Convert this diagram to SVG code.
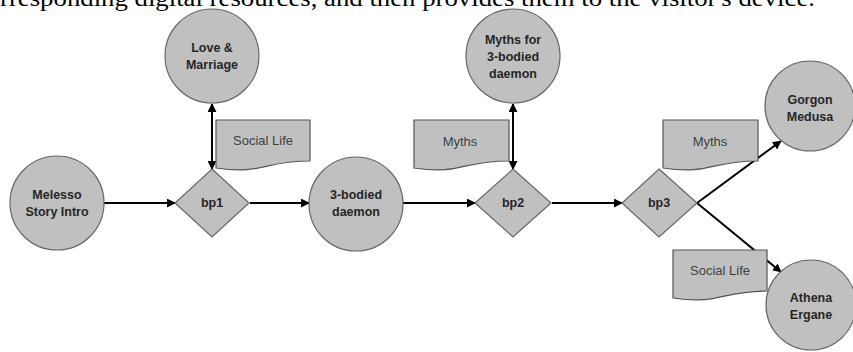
<svg xmlns="http://www.w3.org/2000/svg" width="853" height="352" viewBox="0 0 853 352">
<defs>
<marker id="ah" viewBox="0 0 10 10" refX="9" refY="5" markerWidth="9" markerHeight="9" markerUnits="userSpaceOnUse" orient="auto-start-reverse">
<path d="M0,0 L10,5 L0,10 Z" fill="#000"/>
</marker>
<style>
.node{fill:#c0c0c0;stroke:#666;stroke-width:1.2}
.doc{fill:#c0c0c0;stroke:#555;stroke-width:1.2}
.lbl{font-family:"Liberation Sans",Arial,sans-serif;font-weight:bold;font-size:12.5px;fill:#262626;text-anchor:middle}
.dl{font-family:"Liberation Sans",Arial,sans-serif;font-size:13px;fill:#404040;text-anchor:middle}
.cn{stroke:#000;stroke-width:2;fill:none}
</style>
</defs>
<rect width="853" height="352" fill="#fff"/>
<text x="0" y="6" font-family="Liberation Serif,Times New Roman,serif" font-size="24" fill="#000" textLength="815" lengthAdjust="spacingAndGlyphs">rresponding digital resources, and then provides them to the visitor's device.</text>

<g id="connectors">
<line class="cn" x1="104" y1="203" x2="175" y2="203" marker-end="url(#ah)"/>
<line class="cn" x1="250" y1="203" x2="309" y2="203" marker-end="url(#ah)"/>
<line class="cn" x1="403" y1="203" x2="475" y2="203" marker-end="url(#ah)"/>
<line class="cn" x1="552" y1="203" x2="622" y2="203" marker-end="url(#ah)"/>
<line class="cn" x1="212" y1="104" x2="212" y2="169" marker-start="url(#ah)" marker-end="url(#ah)"/>
<line class="cn" x1="513" y1="104" x2="513" y2="169" marker-start="url(#ah)" marker-end="url(#ah)"/>
<line class="cn" x1="697" y1="203" x2="781" y2="141" marker-end="url(#ah)"/>
<line class="cn" x1="697" y1="203" x2="781" y2="272" marker-end="url(#ah)"/>
</g>

<g id="melesso"><circle class="node" cx="57" cy="203" r="47"/><text class="lbl" x="57" y="199">Melesso</text><text class="lbl" x="57" y="216">Story Intro</text></g>
<g id="love"><circle class="node" cx="212" cy="56" r="47"/><text class="lbl" x="212" y="52">Love &amp;</text><text class="lbl" x="212" y="69">Marriage</text></g>
<g id="bp1"><polygon class="node" points="212,169 249,203 212,237 175,203"/><text class="lbl" x="212" y="207">bp1</text></g>
<g id="doc1"><path class="doc" d="M216,120 H310 V161 C263,161 263,175 216,168 Z"/><text class="dl" x="263" y="145">Social Life</text></g>
<g id="daemon"><circle class="node" cx="356" cy="204" r="47"/><text class="lbl" x="356" y="199">3-bodied</text><text class="lbl" x="356" y="216">daemon</text></g>
<g id="mythsfor"><circle class="node" cx="513" cy="56" r="47"/><text class="lbl" x="513" y="44">Myths for</text><text class="lbl" x="513" y="61">3-bodied</text><text class="lbl" x="513" y="78">daemon</text></g>
<g id="bp2"><polygon class="node" points="513,169 551,203 513,237 475,203"/><text class="lbl" x="513" y="207">bp2</text></g>
<g id="doc2"><path class="doc" d="M414,120 H509 V161 C461,161 461,175 414,168 Z"/><text class="dl" x="460" y="146">Myths</text></g>
<g id="bp3"><polygon class="node" points="659,169 697,203 659,237 622,203"/><text class="lbl" x="659" y="207">bp3</text></g>
<g id="doc3"><path class="doc" d="M663,120 H758 V161 C710,161 710,175 663,168 Z"/><text class="dl" x="710" y="146">Myths</text></g>
<g id="gorgon"><circle class="node" cx="810" cy="106" r="45"/><text class="lbl" x="810" y="104">Gorgon</text><text class="lbl" x="810" y="121">Medusa</text></g>
<g id="doc4"><path class="doc" d="M673,250 H767 V291 C720,291 720,305 673,298 Z"/><text class="dl" x="720" y="275">Social Life</text></g>
<g id="athena"><circle class="node" cx="811" cy="305" r="45"/><text class="lbl" x="811" y="302">Athena</text><text class="lbl" x="811" y="319">Ergane</text></g>
</svg>
